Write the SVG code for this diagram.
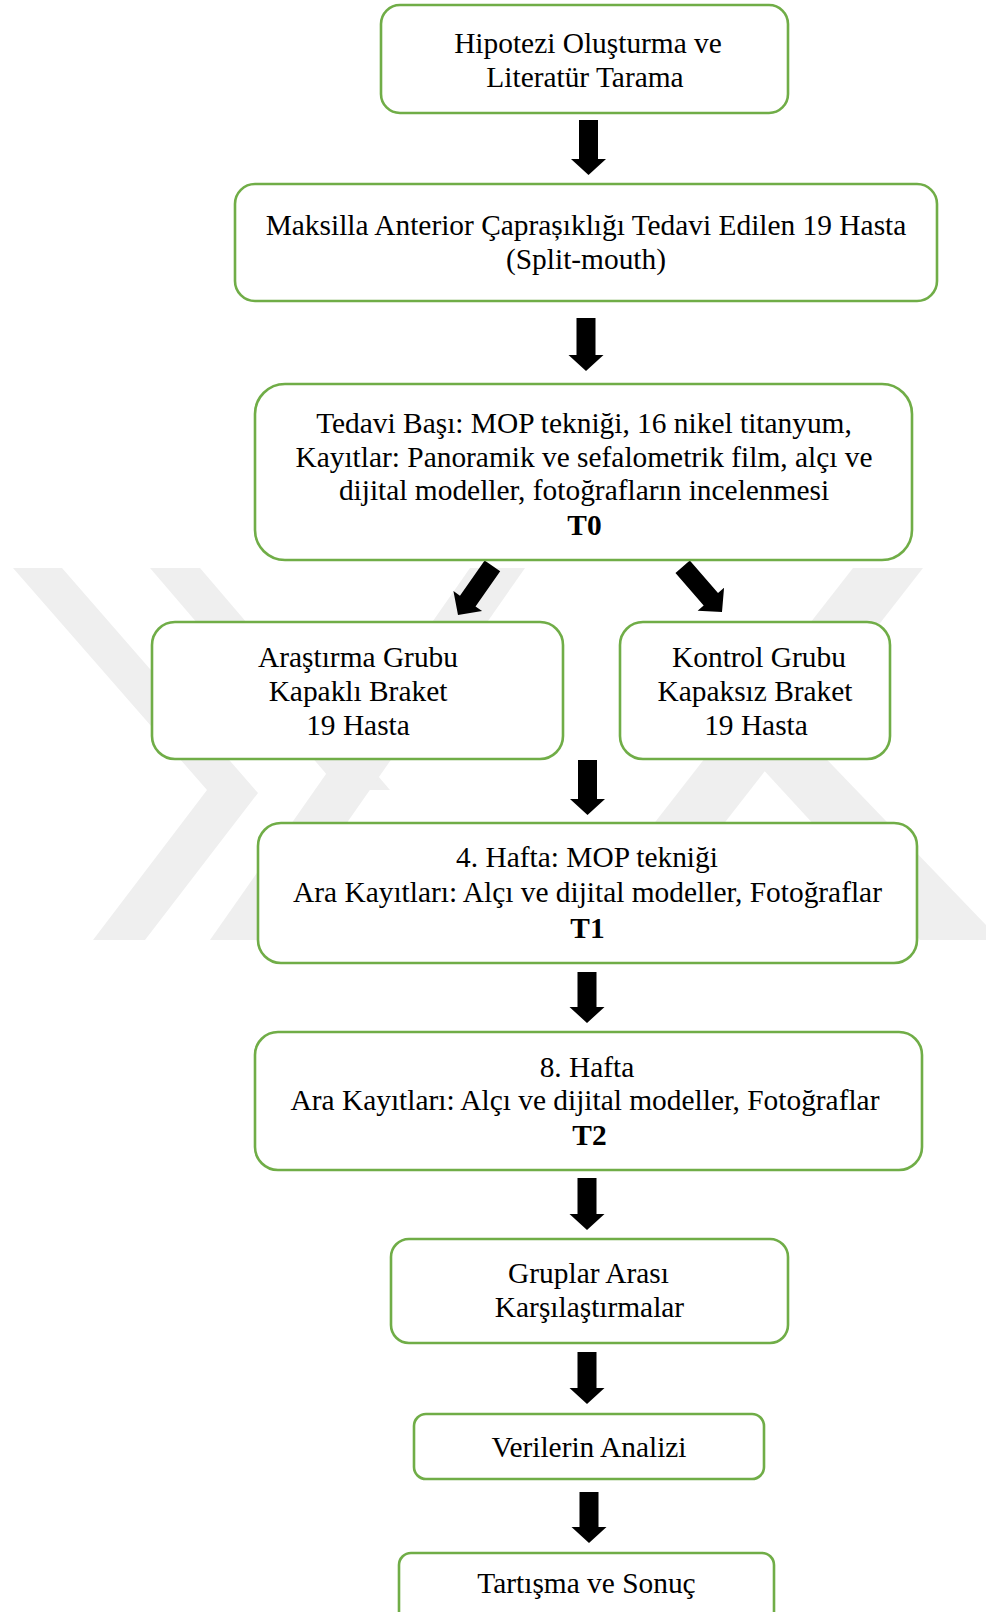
<svg xmlns="http://www.w3.org/2000/svg" width="986" height="1612" viewBox="0 0 986 1612">
<style>
.wm{fill:#efefef}
.box{fill:#ffffff;stroke:#70ad47;stroke-width:2.6}
.t{font-family:"Liberation Serif","Times New Roman",serif;font-size:29.4px;text-anchor:middle;fill:#000}
.b{font-weight:bold}
.arr{fill:#000}
</style>
<defs>
<path id="darr" d="M-9.5,-60 L9.5,-60 L9.5,-17 L17.5,-17 L0,0 L-17.5,-17 L-9.5,-17 Z"/>
</defs>
<rect width="986" height="1612" fill="#ffffff"/>
<g id="watermark">
<path class="wm" d="M13,568 L62,568 L258,793 L145,940 L93,940 L207,790 Z"/>
<path class="wm" d="M150,568 L200,568 L390,790 L340,790 Z"/>
<path class="wm" d="M470,568 L525,568 L265,940 L210,940 Z"/>
<path class="wm" d="M853,568 L923,568 L680,880 L610,880 Z"/>
<path class="wm" d="M690,690 L760,690 L986,925 L986,940 L920,940 Z"/>
</g>
<g id="connectors">
<path class="arr" d="M579,120 L598,120 L598,159 L606,159 L588.5,175 L571,159 L579,159 Z"/>
<path class="arr" d="M576.5,318 L595.5,318 L595.5,355 L603.5,355 L586,371 L568.5,355 L576.5,355 Z"/>
<use href="#darr" class="arr" transform="translate(458,615) rotate(35)"/>
<use href="#darr" class="arr" transform="translate(722,612) rotate(-41)"/>
<path class="arr" d="M578,760 L597,760 L597,799 L605,799 L587.5,815 L570,799 L578,799 Z"/>
<path class="arr" d="M577.5,972 L596.5,972 L596.5,1007 L604.5,1007 L587,1023 L569.5,1007 L577.5,1007 Z"/>
<path class="arr" d="M577.5,1178 L596.5,1178 L596.5,1214 L604.5,1214 L587,1230 L569.5,1214 L577.5,1214 Z"/>
<path class="arr" d="M577.5,1352 L596.5,1352 L596.5,1388 L604.5,1388 L587,1404 L569.5,1388 L577.5,1388 Z"/>
<path class="arr" d="M579.5,1492 L598.5,1492 L598.5,1527 L606.5,1527 L589,1543 L571.5,1527 L579.5,1527 Z"/>
</g>
<g id="n1">
<rect class="box" x="381" y="5" width="407" height="108" rx="19"/>
<text class="t" x="588" y="53">Hipotezi Oluşturma ve</text>
<text class="t" x="585" y="87">Literatür Tarama</text>
</g>
<g id="n2">
<rect class="box" x="235" y="184" width="702" height="117" rx="20"/>
<text class="t" x="586" y="235">Maksilla Anterior Çaprașıklığı Tedavi Edilen 19 Hasta</text>
<text class="t" x="586" y="269">(Split-mouth)</text>
</g>
<g id="n3">
<rect class="box" x="255" y="384" width="657" height="176" rx="30"/>
<text class="t" x="584" y="433">Tedavi Başı: MOP tekniği, 16 nikel titanyum,</text>
<text class="t" x="584" y="467">Kayıtlar: Panoramik ve sefalometrik film, alçı ve</text>
<text class="t" x="584" y="500">dijital modeller, fotoğrafların incelenmesi</text>
<text class="t b" x="584.5" y="535">T0</text>
</g>
<g id="n4">
<rect class="box" x="152" y="622" width="411" height="137" rx="23"/>
<text class="t" x="358" y="667">Araştırma Grubu</text>
<text class="t" x="358" y="701">Kapaklı Braket</text>
<text class="t" x="358" y="735">19 Hasta</text>
</g>
<g id="n5">
<rect class="box" x="620" y="622" width="270" height="137" rx="23"/>
<text class="t" x="759" y="667">Kontrol Grubu</text>
<text class="t" x="755" y="701">Kapaksız Braket</text>
<text class="t" x="756" y="735">19 Hasta</text>
</g>
<g id="n6">
<rect class="box" x="258" y="823" width="659" height="140" rx="23"/>
<text class="t" x="587" y="867">4. Hafta: MOP tekniği</text>
<text class="t" x="587.5" y="902">Ara Kayıtları: Alçı ve dijital modeller, Fotoğraflar</text>
<text class="t b" x="587.5" y="938">T1</text>
</g>
<g id="n7">
<rect class="box" x="255" y="1032" width="667" height="138" rx="23"/>
<text class="t" x="587" y="1077">8. Hafta</text>
<text class="t" x="585" y="1110">Ara Kayıtları: Alçı ve dijital modeller, Fotoğraflar</text>
<text class="t b" x="589.5" y="1145">T2</text>
</g>
<g id="n8">
<rect class="box" x="391" y="1239" width="397" height="104" rx="18"/>
<text class="t" x="588.5" y="1283">Gruplar Arası</text>
<text class="t" x="589.5" y="1317">Karşılaştırmalar</text>
</g>
<g id="n9">
<rect class="box" x="414" y="1414" width="350" height="65" rx="12"/>
<text class="t" x="589" y="1457">Verilerin Analizi</text>
</g>
<g id="n10">
<rect class="box" x="399" y="1553" width="375" height="80" rx="12"/>
<text class="t" x="586.5" y="1593">Tartışma ve Sonuç</text>
</g>
</svg>
